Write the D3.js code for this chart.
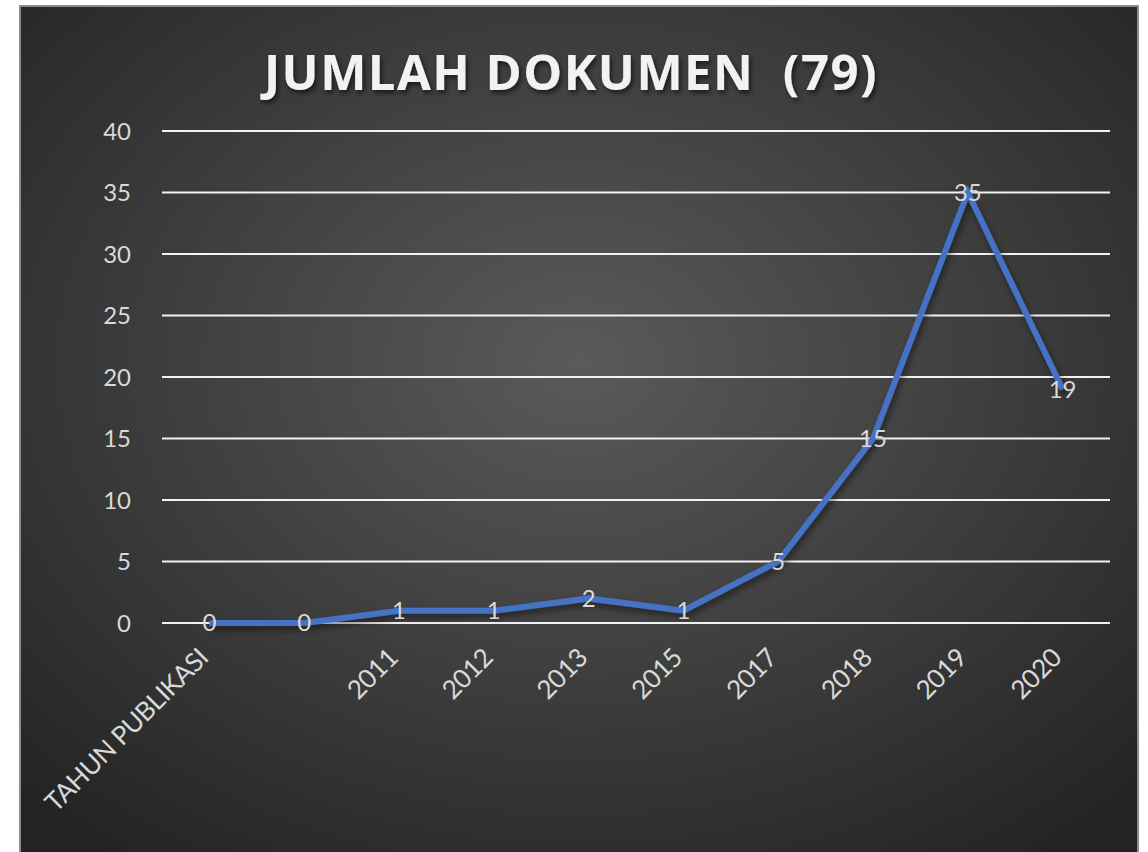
<!DOCTYPE html>
<html><head><meta charset="utf-8">
<script src="https://cdn.jsdelivr.net/npm/d3@7"></script>
<style>html,body{margin:0;padding:0;background:#fff;}svg{display:block;}</style>
</head><body>
<script>
const categories = ["TAHUN PUBLIKASI", "", "2011", "2012", "2013", "2015", "2017", "2018", "2019", "2020"];
const values = [0, 0, 1, 1, 2, 1, 5, 15, 35, 19];
const yTicks = [0, 5, 10, 15, 20, 25, 30, 35, 40];
const titleText = "JUMLAH DOKUMEN  (79)";

const W = 1148, H = 852;
const svg = d3.select("body").append("svg").attr("width", W).attr("height", H);
const defs = svg.append("defs");
const rg = defs.append("radialGradient").attr("id", "bg")
  .attr("cx", "50%").attr("cy", "42%").attr("r", "72%");
rg.append("stop").attr("offset", "0%").attr("stop-color", "#5a5a5a");
rg.append("stop").attr("offset", "100%").attr("stop-color", "#232323");
const sh = defs.append("filter").attr("id", "sh").attr("x", "-10%").attr("y", "-20%").attr("width", "120%").attr("height", "150%");
sh.append("feDropShadow").attr("dx", 2).attr("dy", 3).attr("stdDeviation", 2.5).attr("flood-color", "#000").attr("flood-opacity", 0.6);
const lsh = defs.append("filter").attr("id", "lsh").attr("x", "-10%").attr("y", "-10%").attr("width", "120%").attr("height", "130%");
lsh.append("feDropShadow").attr("dx", 2).attr("dy", 4).attr("stdDeviation", 3).attr("flood-color", "#000").attr("flood-opacity", 0.5);

// chart area
svg.append("rect").attr("x", 20).attr("y", 6).attr("width", 1118).attr("height", 850)
  .attr("fill", "url(#bg)").attr("stroke", "#8c8c8c").attr("stroke-width", 2);

const x = d3.scaleBand().domain(categories.map((d, i) => i)).range([162, 1110]);
const y = d3.scaleLinear().domain([0, 40]).range([623, 131]);

// gridlines
svg.append("g").selectAll("line").data(yTicks).join("line")
  .attr("x1", 162).attr("x2", 1110)
  .attr("y1", d => y(d)).attr("y2", d => y(d))
  .attr("stroke", "#f2f2f2").attr("stroke-width", 2);

// y axis labels
const yAxis = d3.axisLeft(y).tickValues(yTicks).tickSize(0).tickPadding(0);
const yg = svg.append("g").attr("transform", "translate(131,0)").call(yAxis);
yg.select(".domain").remove();
yg.selectAll("text").attr("fill", "#d9d9d9").attr("font-family", "Lato, 'Open Sans', sans-serif")
  .attr("font-size", 24).attr("dy", "0.35em");

// x axis labels
const xAxis = d3.axisBottom(x).tickFormat(i => categories[i]).tickSize(0).tickPadding(0);
const xg = svg.append("g").attr("transform", "translate(0,623)").call(xAxis);
xg.select(".domain").remove();
xg.selectAll("text").attr("fill", "#d9d9d9").attr("font-family", "Lato, 'Open Sans', sans-serif")
  .attr("font-size", 26).attr("text-anchor", "end").attr("letter-spacing", -0.5)
  .attr("transform", "translate(-6,30) rotate(-45)").attr("dy", "0.35em").attr("y", 0);

// line
const line = d3.line().x((d, i) => x(i) + x.bandwidth() / 2).y(d => y(d));
svg.append("path").datum(values).attr("d", line).attr("fill", "none")
  .attr("stroke", "#4472c4").attr("stroke-width", 6).attr("stroke-linejoin", "miter")
  .attr("filter", "url(#lsh)");

// data labels
svg.append("g").selectAll("text").data(values).join("text")
  .attr("x", (d, i) => x(i) + x.bandwidth() / 2).attr("y", d => y(d))
  .attr("dy", "0.35em").attr("text-anchor", "middle")
  .attr("fill", "#d9d9d9").attr("font-family", "Lato, 'Open Sans', sans-serif").attr("font-size", 24)
  .text(d => d);

// title
svg.append("text").attr("x", 571).attr("y", 90).attr("text-anchor", "middle")
  .style("white-space", "pre")
  .attr("fill", "#f2f2f2").attr("font-family", "'Open Sans', sans-serif").attr("font-weight", 700)
  .attr("font-size", 49).attr("letter-spacing", 1.5).attr("filter", "url(#sh)")
  .text(titleText);
</script>
</body></html>
